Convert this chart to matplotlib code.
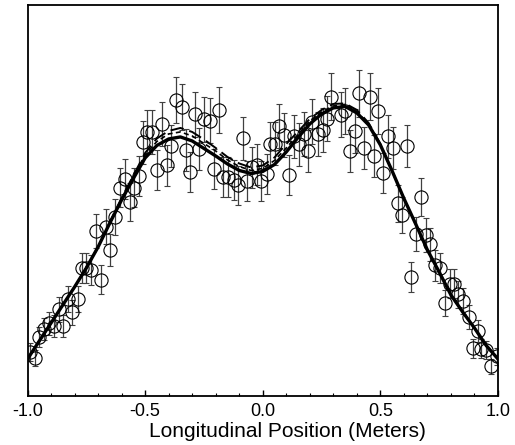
import matplotlib
matplotlib.use("Agg")
import matplotlib.pyplot as plt
from matplotlib.ticker import MultipleLocator

plt.rcParams['font.family'] = ['Liberation Sans', 'DejaVu Sans']

# measured points (position in m, signal in arbitrary units, error)
pos = [-0.989, -0.966, -0.949, -0.930, -0.909, -0.889, -0.868, -0.847, -0.826, -0.809,
       -0.785, -0.768, -0.751, -0.730, -0.707, -0.688, -0.666, -0.649, -0.628, -0.607,
       -0.586, -0.566, -0.549, -0.526, -0.507, -0.490, -0.471, -0.450, -0.428, -0.409,
       -0.388, -0.367, -0.345, -0.328, -0.311, -0.288, -0.269, -0.250, -0.224, -0.209,
       -0.184, -0.167, -0.146, -0.124, -0.107, -0.086, -0.067, -0.046, -0.024, -0.007,
       0.016, 0.031, 0.052, 0.071, 0.092, 0.112, 0.131, 0.154, 0.175, 0.192,
       0.209, 0.233, 0.254, 0.275, 0.292, 0.333, 0.350, 0.371, 0.392, 0.411,
       0.430, 0.454, 0.471, 0.492, 0.511, 0.532, 0.552, 0.573, 0.590, 0.613,
       0.632, 0.651, 0.673, 0.694, 0.711, 0.732, 0.753, 0.773, 0.794, 0.811,
       0.830, 0.851, 0.875, 0.894, 0.915, 0.928, 0.949, 0.972, 0.994]
signal = [44, 38, 59.5, 67.5, 73, 70, 87, 70, 97, 84,
          97, 128, 128, 126, 165, 116.5, 169, 145.5, 179, 208,
          216.5, 194, 208, 220, 253.5, 263.5, 263.5, 226, 271.5, 230.5,
          250, 295.5, 288.5, 245.5, 224, 281.5, 246.5, 276.5, 275, 226.5,
          285.5, 218.5, 218.5, 216, 210.5, 257.5, 214.5, 228.5, 231, 214.5,
          222, 252, 252, 269.5, 261, 220.5, 259.5, 251.5, 261.5, 244.5,
          274, 262, 265.5, 277, 299, 281, 284.5, 244.5, 265, 302.5,
          247.5, 299, 240, 285, 222.5, 259.5, 247.5, 192.5, 181, 250,
          119, 161.5, 198.5, 160.5, 151.5, 130.5, 128, 93.5, 112.5, 112.5,
          102, 95.5, 79.5, 48, 65.5, 47.5, 46, 30, 40]
err = [9, 8, 10, 11, 11.5, 11, 12.5, 11, 13, 12.5,
       13, 15, 15, 15, 17, 14.5, 17.5, 16, 18, 19.5,
       20, 19, 19.5, 20, 21.5, 22, 22, 20, 22, 20.5,
       21, 23, 23, 21, 20, 22.5, 21, 22.5, 22.5, 20,
       23, 20, 20, 20, 19.5, 21.5, 20, 20.5, 20.5, 20,
       20, 21.5, 21.5, 22, 22, 20, 21.5, 21.5, 22, 21,
       22.5, 22, 22, 22.5, 23.5, 22.5, 23, 21, 22, 23.5,
       21, 23.5, 21, 23, 20, 21.5, 21, 18.5, 18, 21,
       14.5, 17, 19, 17, 16.5, 15.5, 15, 13, 14.5, 14.5,
       13.5, 13, 12, 9.5, 11, 9.5, 9, 7.5, 8.5]

# model curves
curve_x = [-1.00, -0.95, -0.90, -0.85, -0.80, -0.75, -0.70, -0.65, -0.60, -0.55,
           -0.50, -0.45, -0.40, -0.35, -0.30, -0.25, -0.20, -0.15, -0.10, -0.05,
           0.00, 0.05, 0.10, 0.15, 0.20, 0.25, 0.30, 0.35, 0.40, 0.45,
           0.50, 0.55, 0.60, 0.65, 0.70, 0.75, 0.80, 0.85, 0.90, 0.95, 1.00]
fit_solid = [37, 55, 73, 91, 109, 128, 149, 173, 196, 217.5,
             238, 250.5, 257, 259, 255, 247.5, 240, 232, 225.5, 222.5,
             224.5, 231.5, 244, 258.5, 272, 282, 288, 289.5, 283, 271,
             251, 225, 197.5, 172, 146, 124, 101, 84, 68, 50.5, 37]
fit_dash1 = [37, 55, 73, 91, 109, 128, 149, 174, 198, 220.5,
             243, 257.5, 265, 268, 264, 256.5, 248, 239, 232.5, 228.5,
             230.5, 238.5, 252, 264.5, 277, 286, 292, 292.5, 286, 273,
             252, 225, 197.5, 172, 146, 124, 101, 84, 68, 50.5, 37]
fit_dash2 = [37, 55, 73, 91, 109, 128, 149, 173, 197, 219.5,
             241, 254.5, 262, 264, 260, 252.5, 245, 236, 229.5, 225.5,
             227.5, 235.5, 248, 261.5, 275, 284, 290, 291.5, 284, 272,
             251, 225, 197.5, 172, 146, 124, 101, 84, 68, 50.5, 37]

fig = plt.figure(figsize=(5.15, 4.45), dpi=100)
ax = fig.add_axes([0.0534, 0.110, 0.9136, 0.879])

ax.errorbar(pos, signal, yerr=err, fmt='o', ms=9.5, mfc='none', mec='black',
            mew=0.8, ecolor='0.25', elinewidth=0.9, capsize=2.5, capthick=0.9,
            zorder=2)
ax.plot(curve_x, fit_dash1, color='black', lw=1.4, dashes=(7, 3), zorder=3)
ax.plot(curve_x, fit_dash2, color='black', lw=1.2, dashes=(3, 2), zorder=3)
ax.plot(curve_x, fit_solid, color='black', lw=2.4, zorder=4)

ax.set_xlim(-1.0, 1.0)
ax.set_ylim(0, 391)
ax.xaxis.set_major_locator(MultipleLocator(0.5))
ax.xaxis.set_minor_locator(MultipleLocator(0.1))
ax.set_xticks([-1.0, -0.5, 0.0, 0.5, 1.0])
ax.set_xticklabels(['-1.0', '-0.5', '0.0', '0.5', '1.0'], fontsize=13)
ax.set_yticks([])
ax.tick_params(axis='x', which='major', direction='in', length=4.5, width=1, pad=5)
ax.tick_params(axis='x', which='minor', direction='in', length=2.2, width=0.8)
for s in ax.spines.values():
    s.set_linewidth(1.3)
ax.set_xlabel('Longitudinal Position (Meters)', fontsize=15)
# label sits a bit right of centre in the original
ax.xaxis.set_label_coords(0.553, -0.066)

fig.savefig('out.png', dpi=100)
